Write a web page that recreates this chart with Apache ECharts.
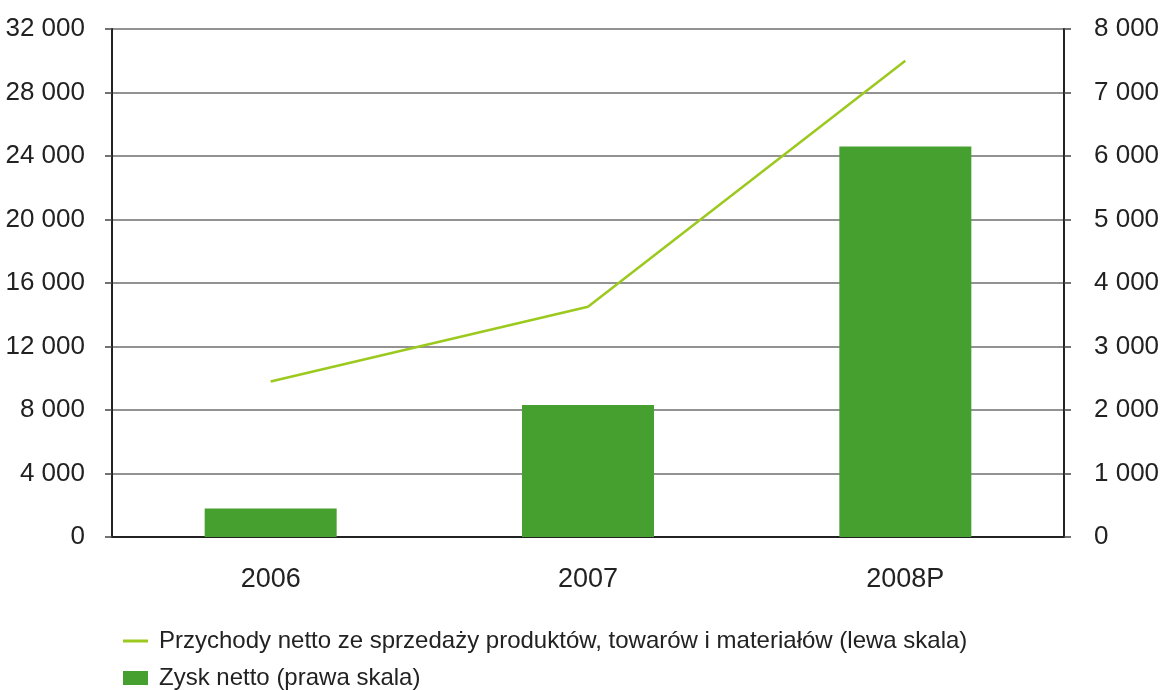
<!DOCTYPE html>
<html>
<head>
<meta charset="utf-8">
<script src="https://cdn.jsdelivr.net/npm/echarts@6/dist/echarts.min.js"></script>
<style>
  html, body { margin: 0; padding: 0; background: #fff; }
  #chart { width: 1166px; height: 690px; }
</style>
</head>
<body>
<div id="chart"></div>
<script>
const categories = ['2006', '2007', '2008P'];
const revenue = [9800, 14500, 30000];      // left scale
const netProfit = [450, 2080, 6150];       // right scale
const revenueName = 'Przychody netto ze sprzedaży produktów, towarów i materiałów (lewa skala)';
const profitName = 'Zysk netto (prawa skala)';

const FONT = '"Liberation Sans Narrow", "Liberation Sans", Arial, sans-serif';
const fmt = v => String(v).replace(/\B(?=(\d{3})+(?!\d))/g, ' ');

const chart = echarts.init(document.getElementById('chart'));
chart.setOption({
  animation: false,
  backgroundColor: '#ffffff',
  textStyle: { fontFamily: FONT },
  grid: { left: 112, right: 102, top: 29, bottom: 153, containLabel: false },
  legend: [
    {
      orient: 'vertical', left: 118, top: 624,
      icon: 'rect', itemWidth: 25, itemHeight: 3, itemGap: 10,
      textStyle: { fontFamily: FONT, fontSize: 24, color: '#222', padding: [0, 0, 0, 6] },
      data: [revenueName]
    },
    {
      orient: 'vertical', left: 118, top: 661,
      icon: 'rect', itemWidth: 25, itemHeight: 14, itemGap: 10,
      textStyle: { fontFamily: FONT, fontSize: 24, color: '#222', padding: [0, 0, 0, 6] },
      data: [profitName]
    }
  ],
  xAxis: {
    type: 'category',
    data: categories,
    axisLine: { show: true, lineStyle: { color: '#222', width: 2 } },
    axisTick: { show: false },
    axisLabel: { fontFamily: FONT, fontSize: 27, color: '#222', margin: 29 }
  },
  yAxis: [
    {
      type: 'value', min: 0, max: 32000, interval: 4000, position: 'left',
      axisLine: { show: true, lineStyle: { color: '#222', width: 2 } },
      axisTick: { show: true, length: 7, lineStyle: { color: '#444', width: 1.5 } },
      axisLabel: { fontFamily: FONT, fontSize: 26, color: '#222', margin: 27, formatter: fmt },
      splitLine: { show: true, lineStyle: { color: '#6e6e6e', width: 1.5 } }
    },
    {
      type: 'value', min: 0, max: 8000, interval: 1000, position: 'right',
      axisLine: { show: true, lineStyle: { color: '#222', width: 2 } },
      axisTick: { show: true, length: 7, lineStyle: { color: '#444', width: 1.5 } },
      axisLabel: { fontFamily: FONT, fontSize: 26, color: '#222', margin: 30, formatter: fmt },
      splitLine: { show: false }
    }
  ],
  series: [
    {
      name: profitName,
      type: 'bar',
      yAxisIndex: 1,
      data: netProfit,
      barWidth: 132,
      itemStyle: { color: '#45a030' }
    },
    {
      name: revenueName,
      type: 'line',
      yAxisIndex: 0,
      data: revenue,
      showSymbol: false,
      symbol: 'none',
      lineStyle: { color: '#9cc91e', width: 2.5 },
      itemStyle: { color: '#9cc91e' },
      z: 5
    }
  ]
});
</script>
</body>
</html>
